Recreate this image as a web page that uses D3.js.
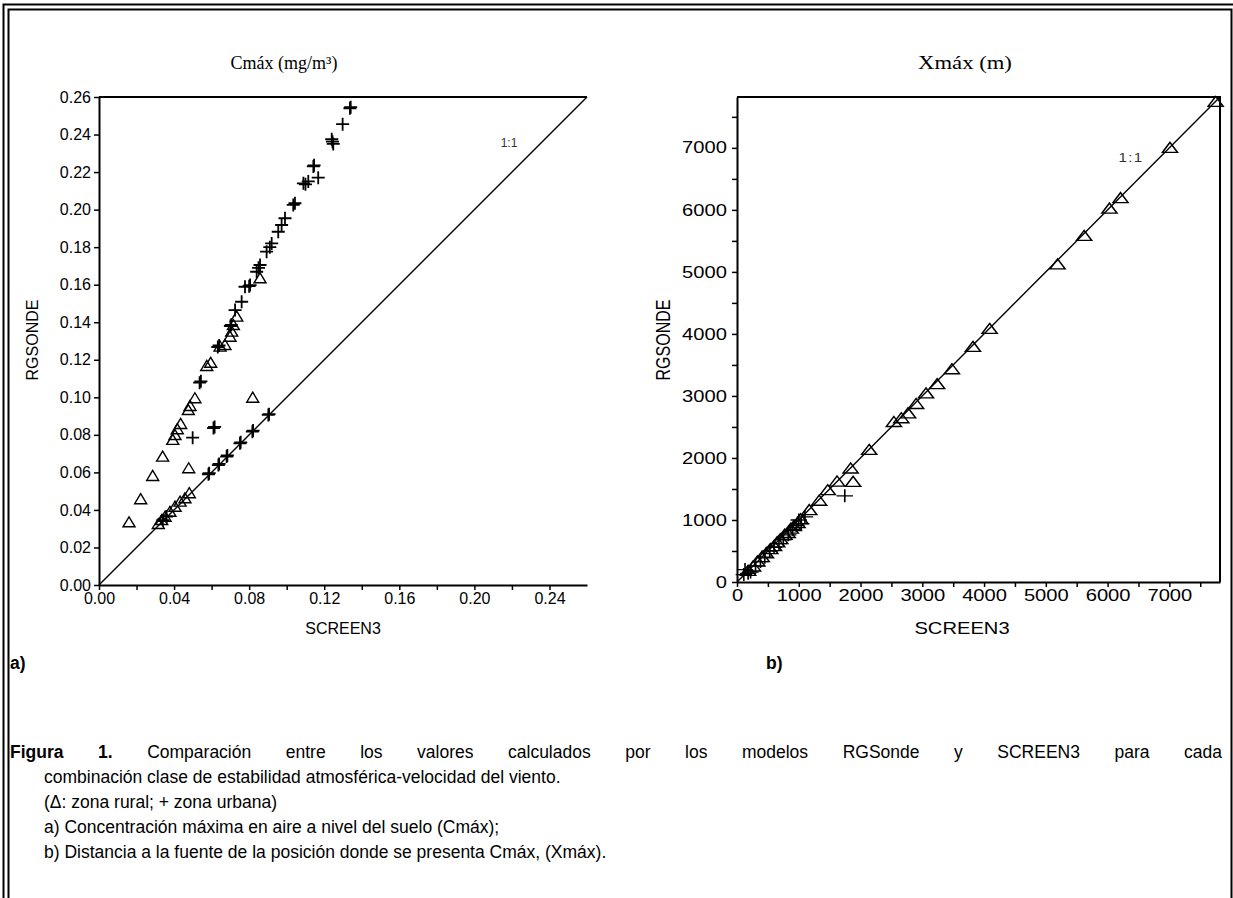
<!DOCTYPE html>
<html>
<head>
<meta charset="utf-8">
<script src="https://cdn.jsdelivr.net/npm/d3@7"></script>
<style>
body { margin: 0; background: #fff; }
svg { display: block; }
</style>
</head>
<body>
<svg id="fig" width="1233" height="898"></svg>
<script>
// panel a) Cmax, [SCREEN3, RGSONDE]
var cmaxRural = [
  [0.0160,0.0334],[0.0222,0.0457],[0.0286,0.0581],[0.0339,0.0684],[0.0393,0.0773],
  [0.0405,0.0799],[0.0417,0.0830],[0.0435,0.0858],[0.0476,0.0932],[0.0485,0.0954],
  [0.0511,0.0995],[0.0478,0.0622],[0.0574,0.1167],[0.0595,0.1184],[0.0645,0.1270],
  [0.0671,0.1279],[0.0698,0.1323],[0.0707,0.1350],[0.0716,0.1385],[0.0734,0.1430],
  [0.0858,0.1634],[0.0819,0.0998],
  [0.0316,0.0325],[0.0334,0.0346],[0.0352,0.0364],[0.0378,0.0390],[0.0405,0.0417],
  [0.0432,0.0444],[0.0458,0.0462],[0.0481,0.0489]
];
var cmaxUrban = [
  [0.0499,0.0785],[0.0610,0.0836],[0.0616,0.0842],[0.0536,0.1078],[0.0543,0.1085],
  [0.0633,0.1268],[0.0640,0.1276],[0.0700,0.1380],[0.0705,0.1386],[0.0725,0.1465],
  [0.0760,0.1509],[0.0778,0.1589],[0.0805,0.1598],[0.0800,0.1592],[0.0840,0.1669],
  [0.0858,0.1705],[0.0850,0.1690],[0.0893,0.1776],[0.0920,0.1820],[0.0910,0.1800],
  [0.0955,0.1882],[0.0973,0.1918],[0.0991,0.1954],[0.1035,0.2025],[0.1044,0.2034],
  [0.1089,0.2140],[0.1115,0.2150],[0.1100,0.2135],[0.1142,0.2230],[0.1146,0.2236],
  [0.1168,0.2170],[0.1240,0.2375],[0.1248,0.2350],[0.1244,0.2362],[0.1298,0.2455],
  [0.1337,0.2540],[0.1341,0.2546],
  [0.0583,0.0590],[0.0587,0.0596],[0.0636,0.0639],[0.0640,0.0645],[0.0680,0.0684],
  [0.0684,0.0690],[0.0751,0.0755],[0.0755,0.0760],[0.0817,0.0817],[0.0821,0.0823],
  [0.0902,0.0906],[0.0906,0.0910],[0.0340,0.0345],[0.0360,0.0365]
];
var cmaxMax = 0.26;
var cmaxTicksY = [0,0.02,0.04,0.06,0.08,0.10,0.12,0.14,0.16,0.18,0.20,0.22,0.24,0.26];
var cmaxTicksX = [0,0.02,0.04,0.06,0.08,0.10,0.12,0.14,0.16,0.18,0.20,0.22,0.24];
var cmaxLabelsX = [0,0.04,0.08,0.12,0.16,0.20,0.24];

// panel b) Xmax (m)
var xmaxRural = [
  [7750,7740],[7010,7000],[6210,6190],[6030,6020],[5620,5580],[5190,5120],[4090,4080],
  [3820,3790],[3480,3430],[3240,3190],[3060,3040],[2900,2870],[2770,2720],[2660,2640],
  [2540,2580],[2140,2130],[1840,1830],[1880,1615],[1620,1620],[1470,1480],[1330,1310],
  [1170,1160],[1030,1010],[980,950],[920,900],[870,860],[820,790],[770,760],[700,690],
  [650,640],[600,580],[540,530],[470,460],[400,400],[330,330],[260,250],[180,180]
];
var xmaxUrban = [
  [1745,1390],[110,120],[130,200],[180,140],[220,160],[300,260],[380,330],[450,400],
  [530,500],[600,560],[680,620],[750,680],[830,760],[900,850],[960,910],[1040,940],
  [1000,1000],[1100,1050]
];
var xmaxMax = 7820;
var xmaxTicks = [0,500,1000,1500,2000,2500,3000,3500,4000,4500,5000,5500,6000,6500,7000,7500];
var xmaxLabels = [0,1000,2000,3000,4000,5000,6000,7000];

var caption = [
  "combinación clase de estabilidad atmosférica-velocidad del viento.",
  "(\u0394: zona rural; + zona urbana)",
  "a) Concentración máxima en aire a nivel del suelo (Cmáx);",
  "b) Distancia a la fuente de la posición donde se presenta Cmáx, (Xmáx)."
];

var SANS = '"Liberation Sans", Arial, sans-serif';
var SERIF = '"Liberation Serif", "Times New Roman", serif';

var svg = d3.select('#fig').style('font-family', SANS);
svg.append('rect').attr('width', 1233).attr('height', 898).attr('fill', '#fff');

// page border
var border = svg.append('g').attr('stroke', '#000').attr('stroke-width', 2).attr('fill', 'none');
border.append('path').attr('d', 'M3.5,898V4.5H1233');
border.append('path').attr('d', 'M8.5,898V9.5H1231.5V898');

var trianglePath = 'M0,-5.5L6,4.5L-6,4.5Z';
var plusPath = 'M-6.5,0H6.5M0,-6.5V6.5';

function styleAxis(g) {
  g.attr('font-family', SANS).attr('font-size', 16);
  g.select('.domain').attr('stroke-width', 2);
  g.selectAll('.tick line').attr('stroke-width', 1.5);
  g.selectAll('.tick text').attr('fill', '#000');
}

// ---------- panel a ----------
var xa = d3.scaleLinear().domain([0, cmaxMax]).range([99, 587]);
var ya = d3.scaleLinear().domain([0, cmaxMax]).range([585, 97]);
var ga = svg.append('g');

ga.append('g').attr('transform', 'translate(0,' + ya(0) + ')')
  .call(d3.axisBottom(xa).tickValues(cmaxTicksX).tickSize(5).tickSizeOuter(0).tickPadding(3)
    .tickFormat(function(d) {
      return cmaxLabelsX.some(function(v) { return Math.abs(v - d) < 1e-9; }) ? d3.format('.2f')(d) : '';
    }))
  .call(styleAxis);
ga.append('g').attr('transform', 'translate(' + xa(0) + ',0)')
  .call(d3.axisLeft(ya).tickValues(cmaxTicksY).tickSize(5).tickSizeOuter(0).tickPadding(3)
    .tickFormat(d3.format('.2f')))
  .call(styleAxis);
ga.append('line').attr('x1', xa(0)).attr('x2', xa(cmaxMax)).attr('y1', ya(cmaxMax)).attr('y2', ya(cmaxMax))
  .attr('stroke', '#000').attr('stroke-width', 2);
ga.append('line').attr('x1', xa(0)).attr('y1', ya(0)).attr('x2', xa(cmaxMax)).attr('y2', ya(cmaxMax))
  .attr('stroke', '#000').attr('stroke-width', 1.4);

ga.selectAll('.tri').data(cmaxRural).enter().append('path')
  .attr('d', trianglePath)
  .attr('transform', function(d) { return 'translate(' + xa(d[0]) + ',' + ya(d[1]) + ')'; })
  .attr('fill', 'none').attr('stroke', '#000').attr('stroke-width', 1.4);
ga.selectAll('.plus').data(cmaxUrban).enter().append('path')
  .attr('d', plusPath)
  .attr('transform', function(d) { return 'translate(' + xa(d[0]) + ',' + ya(d[1]) + ')'; })
  .attr('fill', 'none').attr('stroke', '#000').attr('stroke-width', 1.8);

ga.append('text').attr('x', 509).attr('y', 147).attr('text-anchor', 'middle')
  .attr('font-size', 12).attr('fill', '#333').text('1:1');
ga.append('text').attr('x', 284).attr('y', 69).attr('text-anchor', 'middle')
  .attr('font-size', 18).attr('font-family', SERIF)
  .text('Cmáx (mg/m³)');
ga.append('text').attr('x', 343).attr('y', 634).attr('text-anchor', 'middle')
  .attr('font-size', 16).text('SCREEN3');
ga.append('text').attr('transform', 'translate(38,340) rotate(-90)').attr('text-anchor', 'middle')
  .attr('font-size', 16).text('RGSONDE');

// ---------- panel b (horizontally stretched like the original) ----------
var sx = 1.26;
var xb = d3.scaleLinear().domain([0, xmaxMax]).range([737, 1220]);
var yb = d3.scaleLinear().domain([0, xmaxMax]).range([582, 97]);
var gb = svg.append('g');

function stretchLabels(g) {
  g.selectAll('.tick text').attr('transform', 'scale(' + sx + ',1)');
}
gb.append('g').attr('transform', 'translate(0,' + yb(0) + ')')
  .call(d3.axisBottom(xb).tickValues(xmaxTicks).tickSize(5).tickSizeOuter(0).tickPadding(3)
    .tickFormat(function(d) { return xmaxLabels.indexOf(d) >= 0 ? String(d) : ''; }))
  .call(styleAxis).call(stretchLabels);
gb.append('g').attr('transform', 'translate(' + xb(0) + ',0)')
  .call(d3.axisLeft(yb).tickValues(xmaxTicks).tickSize(5).tickSizeOuter(0).tickPadding(3)
    .tickFormat(function(d) { return xmaxLabels.indexOf(d) >= 0 ? String(d) : ''; }))
  .call(styleAxis).call(stretchLabels);

gb.append('path')
  .attr('d', 'M' + xb(0) + ',' + yb(xmaxMax) + 'H' + xb(xmaxMax) + 'V' + yb(0))
  .attr('fill', 'none').attr('stroke', '#000').attr('stroke-width', 2);
gb.append('line').attr('x1', xb(0)).attr('y1', yb(0)).attr('x2', xb(xmaxMax)).attr('y2', yb(xmaxMax))
  .attr('stroke', '#000').attr('stroke-width', 1.4);

gb.selectAll('.tri').data(xmaxRural).enter().append('path')
  .attr('d', trianglePath)
  .attr('transform', function(d) { return 'translate(' + xb(d[0]) + ',' + yb(d[1]) + ') scale(' + sx + ',1)'; })
  .attr('fill', 'none').attr('stroke', '#000').attr('stroke-width', 1.3);
gb.selectAll('.plus').data(xmaxUrban).enter().append('path')
  .attr('d', plusPath)
  .attr('transform', function(d) { return 'translate(' + xb(d[0]) + ',' + yb(d[1]) + ') scale(' + sx + ',1)'; })
  .attr('fill', 'none').attr('stroke', '#000').attr('stroke-width', 1.3);

gb.append('text').attr('transform', 'translate(1131,162) scale(' + sx + ',1)').attr('text-anchor', 'middle')
  .attr('font-size', 12).attr('letter-spacing', 1).attr('fill', '#333').text('1:1');
gb.append('text').attr('transform', 'translate(965,69) scale(' + sx + ',1)').attr('text-anchor', 'middle')
  .attr('font-size', 18).attr('font-family', SERIF)
  .text('Xmáx (m)');
gb.append('text').attr('transform', 'translate(962,634) scale(' + sx + ',1)').attr('text-anchor', 'middle')
  .attr('font-size', 16).text('SCREEN3');
gb.append('text').attr('transform', 'translate(670,340) rotate(-90) scale(1,' + sx + ')').attr('text-anchor', 'middle')
  .attr('font-size', 16).text('RGSONDE');

// ---------- panel letters and caption ----------
var capSize = 17.5;
svg.append('text').attr('x', 10).attr('y', 669).attr('font-size', capSize).attr('font-weight', 'bold').text('a)');
svg.append('text').attr('x', 766).attr('y', 669).attr('font-size', capSize).attr('font-weight', 'bold').text('b)');

// first caption line is justified to the full width
var first = svg.append('text').attr('x', 10).attr('y', 758).attr('font-size', capSize);
first.append('tspan').attr('font-weight', 'bold').text('Figura 1.');
first.append('tspan').text(' Comparación entre los valores calculados por los modelos RGSonde y SCREEN3 para cada');
var natural = first.node().getComputedTextLength();
var gaps = first.text().split(' ').length - 1;
first.attr('word-spacing', Math.max(0, (1212 - natural) / gaps));

svg.selectAll('.cap').data(caption).enter().append('text')
  .attr('x', 44).attr('y', function(d, i) { return 783 + i * 25; })
  .attr('font-size', capSize).text(function(d) { return d; });
</script>
</body>
</html>
